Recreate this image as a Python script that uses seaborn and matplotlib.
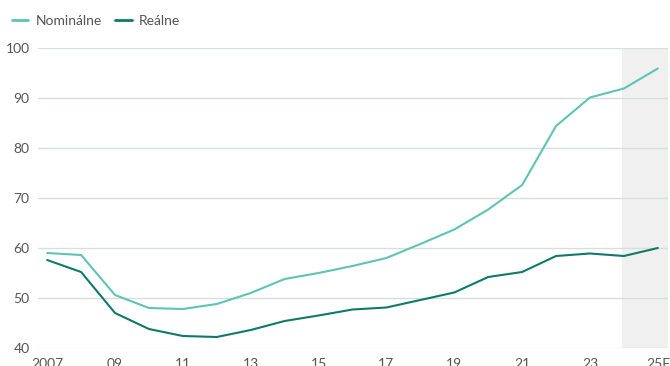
import matplotlib
matplotlib.use("Agg")
import matplotlib.pyplot as plt
import seaborn as sns
import pandas as pd
from matplotlib.lines import Line2D

years = list(range(2007, 2026))
nominalne = [59.0, 58.6, 50.6, 48.0, 47.8, 48.8, 51.0, 53.8, 55.0, 56.4, 58.0,
             60.8, 63.7, 67.7, 72.6, 84.4, 90.1, 91.9, 95.9]
realne = [57.6, 55.2, 47.0, 43.8, 42.4, 42.2, 43.6, 45.4, 46.5, 47.7, 48.1,
          49.6, 51.1, 54.2, 55.2, 58.4, 58.9, 58.4, 60.0]
series_names = ["Nominálne", "Reálne"]
xtick_years = [2007, 2009, 2011, 2013, 2015, 2017, 2019, 2021, 2023, 2025]
xtick_labels = ["2007", "09", "11", "13", "15", "17", "19", "21", "23", "25F"]
yticks = [40, 50, 60, 70, 80, 90, 100]

df = pd.DataFrame({
    "rok": years * 2,
    "hodnota": nominalne + realne,
    "séria": [series_names[0]] * len(years) + [series_names[1]] * len(years),
})

sns.set_theme(style="white")
plt.rcParams["font.family"] = ["Lato", "DejaVu Sans"]

fig = plt.figure(figsize=(6.7, 3.66), dpi=100)
ax = fig.add_axes([38 / 670, 1 - 348 / 366, 630 / 670, 300 / 366])

palette = {series_names[0]: "#5ec4b6", series_names[1]: "#0f7a6c"}
ax.axvspan(2023.95, 2025.3, color="#f0f0f0", zorder=0, lw=0)
for y in yticks:
    ax.axhline(y, color="#d8dddd", lw=1, zorder=1)

sns.lineplot(data=df, x="rok", y="hodnota", hue="séria", palette=palette,
             lw=1.5, ax=ax, legend=False, zorder=3)

ax.set_xlim(2006.73, 2025.3)
ax.set_ylim(40, 100)
ax.set_yticks(yticks)
ax.set_yticklabels([str(v) for v in yticks], color="#555555", fontsize=10)
ax.set_xticks(xtick_years)
ax.set_xticklabels(xtick_labels, color="#555555", fontsize=10)
ax.tick_params(axis="x", length=0, pad=7)
ax.tick_params(axis="y", length=0, pad=6)
ax.set_xlabel("")
ax.set_ylabel("")
for s in ax.spines.values():
    s.set_visible(False)

handles = [Line2D([0], [0], color=palette[n], lw=2) for n in series_names]
fig.legend(handles, series_names, loc="upper left", bbox_to_anchor=(0.003, 0.985),
           ncol=2, frameon=False, fontsize=10, handlelength=1.2,
           handletextpad=0.5, columnspacing=1.0, labelcolor="#555555",
           borderaxespad=0.3)

fig.savefig("out.png", dpi=100)
